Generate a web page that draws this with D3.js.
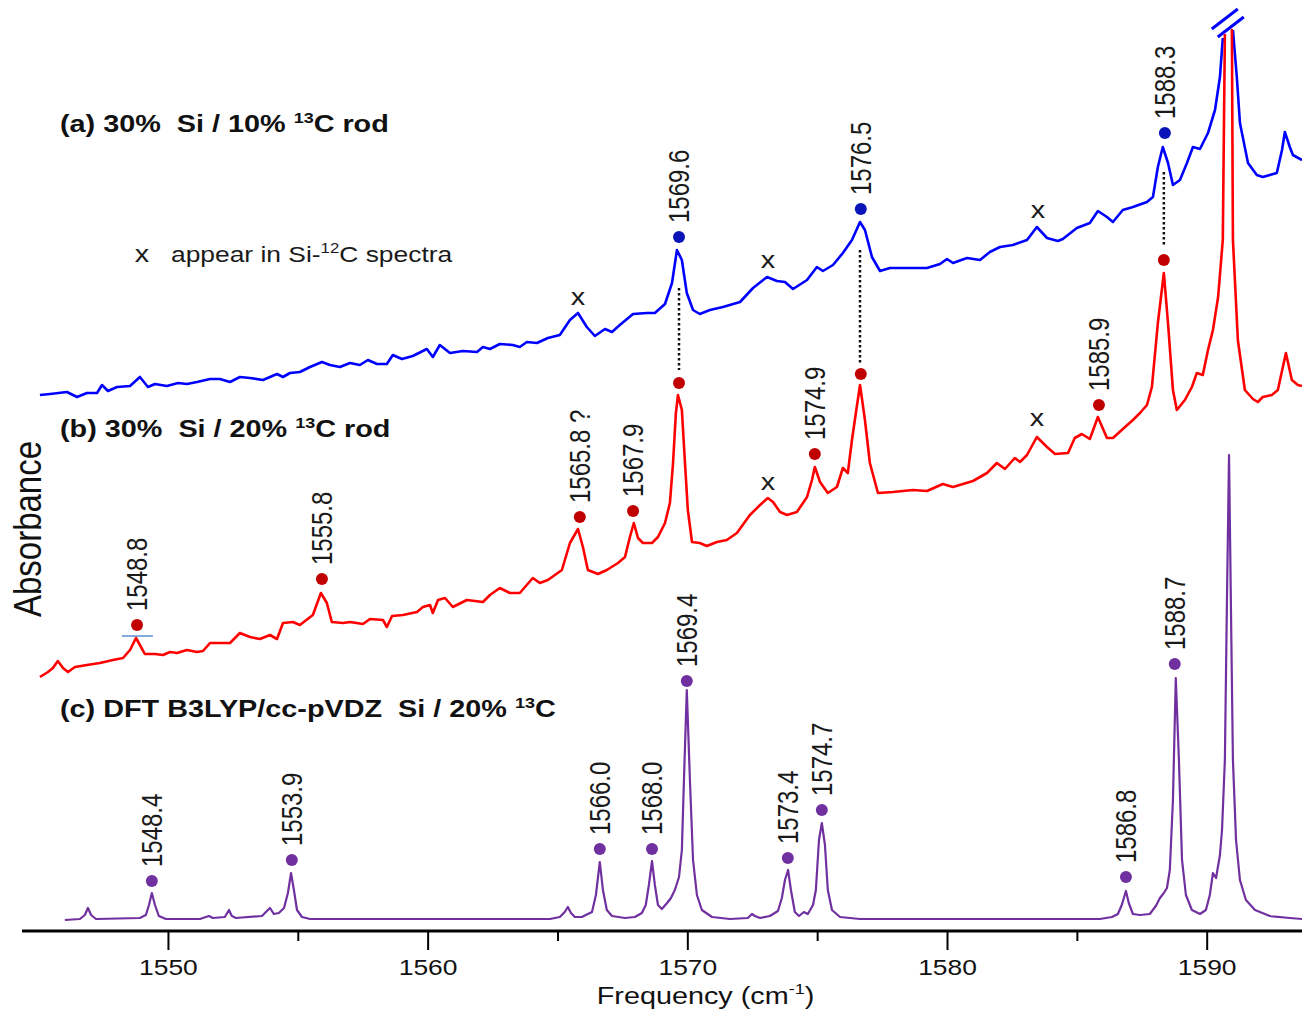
<!DOCTYPE html>
<html>
<head>
<meta charset="utf-8">
<style>
  body { margin: 0; background: #fff; }
  svg { display: block; font-family: "Liberation Sans", Arial, sans-serif; }
</style>
</head>
<body>
<svg width="1302" height="1011"></svg>

<script src="https://d3js.org/d3.v7.min.js"></script>
<script>
// spectra: [frequency (cm-1), absorbance (arb., stacked)]
// null = break where the strong band runs off the top
const traceA = [
  [1545.07,53.6],[1545.46,53.7],[1546.11,53.9],[1546.50,53.4],[1546.88,53.8],[1547.27,53.8],[1547.46,54.6],
  [1547.69,54.0],[1548.04,54.4],[1548.54,54.5],[1548.92,55.4],[1549.23,54.4],[1549.50,54.7],[1549.96,54.5],
  [1550.39,54.8],[1550.73,54.7],[1551.12,54.9],[1551.62,55.2],[1552.00,55.2],[1552.39,54.9],[1552.77,55.4],
  [1553.16,55.3],[1553.66,55.1],[1554.20,55.7],[1554.43,55.4],[1554.70,55.8],[1555.08,55.9],[1555.47,56.4],
  [1555.93,56.9],[1556.24,56.6],[1556.62,56.4],[1557.01,56.8],[1557.39,56.6],[1557.70,57.1],[1558.05,56.7],
  [1558.43,56.7],[1558.66,57.6],[1559.01,57.2],[1559.43,57.5],[1559.97,58.2],[1560.20,57.4],[1560.47,58.6],
  [1560.86,57.8],[1561.36,58.0],[1561.90,57.9],[1562.13,58.4],[1562.40,58.2],[1562.78,58.7],[1563.28,58.6],
  [1563.55,58.4],[1563.82,58.9],[1564.21,58.8],[1564.63,59.3],[1565.09,59.6],[1565.48,61.1],[1565.79,61.8],
  [1566.13,60.4],[1566.44,59.5],[1566.83,60.2],[1567.10,59.9],[1567.40,60.6],[1567.91,61.7],[1568.44,61.8],
  [1568.75,61.8],[1569.14,62.7],[1569.41,64.8],[1569.60,68.1],[1569.79,67.1],[1569.98,63.8],[1570.22,62.1],
  [1570.48,61.7],[1570.87,62.1],[1571.37,62.4],[1572.03,62.9],[1572.53,64.3],[1573.07,65.4],[1573.45,65.0],
  [1573.76,64.9],[1574.07,64.2],[1574.61,65.1],[1574.99,66.4],[1575.22,66.0],[1575.61,66.6],[1575.99,67.8],
  [1576.34,69.1],[1576.65,70.9],[1576.84,70.1],[1577.11,67.4],[1577.42,66.0],[1577.80,66.3],[1578.46,66.3],
  [1579.23,66.3],[1579.73,66.7],[1580.00,67.2],[1580.23,66.8],[1580.77,67.3],[1581.27,67.1],[1581.65,67.9],
  [1582.04,68.4],[1582.54,68.6],[1583.08,69.1],[1583.46,70.4],[1583.85,69.3],[1584.27,69.0],[1584.46,69.2],
  [1585.00,70.3],[1585.50,70.8],[1585.81,72.0],[1586.16,71.4],[1586.39,70.9],[1586.77,72.1],[1587.16,72.4],
  [1587.70,72.9],[1587.93,73.4],[1588.12,76.4],[1588.31,78.4],[1588.51,76.8],[1588.70,74.6],[1588.97,75.1],
  [1589.24,76.8],[1589.47,78.4],[1589.74,78.2],[1590.05,79.8],[1590.32,82.1],[1590.51,85.4],[1590.62,89.3],
  null,
  [1591.01,90.1],[1591.16,85.4],[1591.28,80.8],[1591.59,76.8],[1591.93,75.6],[1592.16,75.4],[1592.70,75.8],
  [1592.90,78.1],[1593.01,79.9],[1593.20,78.4],[1593.32,77.6],[1593.67,77.1]
];

const traceB = [
  [1545.07,25.4],[1545.38,25.9],[1545.57,26.3],[1545.76,27.0],[1545.96,26.3],[1546.15,25.9],[1546.42,26.4],
  [1546.88,26.6],[1547.38,26.8],[1547.88,27.1],[1548.27,27.3],[1548.54,28.1],[1548.77,29.3],[1548.92,28.6],
  [1549.11,27.7],[1549.50,27.7],[1549.81,27.6],[1550.08,27.9],[1550.35,27.8],[1550.73,28.1],[1551.12,27.9],
  [1551.35,28.0],[1551.62,28.8],[1552.39,28.8],[1552.77,29.8],[1553.16,29.4],[1553.54,29.2],[1553.93,29.6],
  [1554.20,29.2],[1554.43,30.8],[1554.81,30.9],[1555.08,30.6],[1555.58,31.6],[1555.89,33.8],[1556.12,32.8],
  [1556.31,30.9],[1556.74,30.8],[1557.01,30.9],[1557.51,30.7],[1557.78,31.2],[1558.28,31.1],[1558.43,30.4],
  [1558.63,31.5],[1559.05,31.6],[1559.59,31.9],[1559.82,32.4],[1560.09,32.6],[1560.20,31.8],[1560.40,33.1],
  [1560.67,33.3],[1560.97,32.4],[1561.51,33.1],[1562.13,32.9],[1562.40,33.6],[1562.78,34.3],[1563.17,33.8],
  [1563.55,33.8],[1564.05,35.3],[1564.32,34.8],[1564.63,35.1],[1565.17,36.1],[1565.48,38.8],[1565.79,40.2],
  [1565.98,38.4],[1566.17,36.1],[1566.56,35.7],[1566.90,36.1],[1567.33,36.8],[1567.60,37.4],[1567.79,39.4],
  [1567.94,40.8],[1568.10,39.3],[1568.29,38.8],[1568.64,38.8],[1568.87,39.4],[1569.14,40.8],[1569.33,42.8],
  [1569.45,46.8],[1569.56,51.8],[1569.64,53.6],[1569.79,52.1],[1569.91,46.8],[1570.02,42.1],[1570.18,38.9],
  [1570.48,38.8],[1570.75,38.5],[1571.14,38.9],[1571.52,39.1],[1571.91,39.8],[1572.41,41.6],[1572.80,42.6],
  [1573.10,43.3],[1573.30,42.9],[1573.57,41.9],[1573.84,41.6],[1574.22,41.9],[1574.61,43.4],[1574.80,45.1],
  [1574.91,46.4],[1575.11,44.9],[1575.41,43.8],[1575.76,44.4],[1575.99,46.3],[1576.18,45.8],[1576.34,49.1],
  [1576.49,51.8],[1576.65,54.6],[1576.84,51.1],[1577.03,46.8],[1577.34,43.8],[1577.92,43.9],[1578.69,44.1],
  [1579.23,44.0],[1579.84,44.7],[1580.23,44.4],[1581.00,45.0],[1581.54,45.8],[1581.92,46.8],[1582.23,46.2],
  [1582.61,47.3],[1582.81,46.9],[1583.08,47.6],[1583.46,49.4],[1583.85,48.4],[1584.16,47.7],[1584.66,47.8],
  [1584.92,49.3],[1585.19,49.7],[1585.50,49.2],[1585.81,51.4],[1586.16,49.3],[1586.39,49.3],[1586.77,50.2],
  [1587.16,51.1],[1587.43,51.8],[1587.70,52.6],[1587.89,54.4],[1588.12,60.8],[1588.35,65.8],[1588.51,60.8],
  [1588.70,54.1],[1588.85,52.1],[1589.16,53.1],[1589.43,54.4],[1589.62,55.8],[1589.85,55.6],[1590.05,58.1],
  [1590.24,60.1],[1590.44,63.4],[1590.62,69.1],[1590.70,89.7],
  null,
  [1590.97,90.2],[1591.01,69.1],[1591.20,59.1],[1591.47,54.1],[1591.78,53.2],[1591.97,52.9],[1592.16,53.4],
  [1592.51,53.6],[1592.74,54.1],[1593.05,57.8],[1593.28,55.1],[1593.51,54.6],[1593.67,54.5]
];

const traceC = [
  [1546.03,1.1],[1546.61,1.2],[1546.80,1.6],[1546.92,2.3],[1547.04,1.6],[1547.23,1.2],[1548.92,1.3],
  [1549.15,1.6],[1549.27,2.6],[1549.38,3.8],[1549.50,2.6],[1549.65,1.5],[1549.92,1.2],[1551.23,1.2],
  [1551.46,1.4],[1551.58,1.5],[1551.73,1.3],[1552.19,1.4],[1552.35,2.1],[1552.46,1.5],[1552.62,1.3],
  [1553.62,1.5],[1553.81,2.0],[1553.93,2.3],[1554.08,1.7],[1554.27,1.8],[1554.47,2.3],[1554.62,3.8],
  [1554.74,5.8],[1554.85,4.1],[1554.97,2.1],[1555.16,1.4],[1555.47,1.2],[1564.71,1.2],[1565.09,1.4],
  [1565.28,1.9],[1565.40,2.4],[1565.52,1.8],[1565.67,1.4],[1565.94,1.4],[1566.17,1.7],[1566.33,1.9],
  [1566.48,3.6],[1566.63,6.9],[1566.75,4.1],[1566.90,2.1],[1567.10,1.5],[1567.60,1.3],[1567.98,1.4],
  [1568.25,1.8],[1568.40,2.6],[1568.52,4.6],[1568.64,7.0],[1568.75,4.6],[1568.87,2.6],[1569.02,2.2],
  [1569.22,2.8],[1569.37,3.3],[1569.52,4.1],[1569.68,5.4],[1569.79,8.1],[1569.87,15.1],[1569.98,24.1],
  [1570.10,15.1],[1570.22,7.1],[1570.37,3.6],[1570.56,2.1],[1570.95,1.4],[1571.64,1.2],[1572.33,1.3],
  [1572.49,1.7],[1572.60,1.5],[1572.80,1.3],[1573.18,1.5],[1573.49,2.0],[1573.64,3.3],[1573.76,5.1],
  [1573.88,6.1],[1573.99,4.1],[1574.14,1.9],[1574.30,1.5],[1574.49,1.9],[1574.64,1.7],[1574.84,2.6],
  [1574.95,4.1],[1575.07,9.1],[1575.18,10.8],[1575.30,8.6],[1575.41,4.1],[1575.57,2.1],[1575.88,1.4],
  [1576.65,1.2],[1585.89,1.2],[1586.35,1.4],[1586.58,1.7],[1586.73,2.6],[1586.89,4.0],[1587.00,2.8],
  [1587.16,1.7],[1587.43,1.6],[1587.81,1.7],[1588.04,2.5],[1588.20,3.3],[1588.35,3.8],[1588.47,4.3],
  [1588.58,6.1],[1588.70,13.1],[1588.81,25.3],[1588.93,17.1],[1589.05,7.1],[1589.20,3.6],[1589.43,2.1],
  [1589.74,1.7],[1589.97,2.1],[1590.12,3.6],[1590.24,5.8],[1590.36,5.3],[1590.51,7.6],[1590.59,10.1],
  [1590.70,17.1],[1590.78,33.1],[1590.86,47.6],[1590.93,33.1],[1591.01,17.1],[1591.13,9.1],[1591.28,5.1],
  [1591.51,3.1],[1591.86,2.1],[1592.43,1.5],[1593.20,1.3],[1593.67,1.2]
];

// marked bands: frequency, absorbance of the dot, label (null = no label)
const peaksA = [
  [1569.68, 69.4, "1569.6"], [1576.68, 72.2, "1576.5"], [1588.39, 79.8, "1588.3"]
];
const peaksB = [
  [1548.81, 30.6, "1548.8"], [1555.93, 35.2, "1555.8"], [1565.86, 41.4, "1565.8 ?"],
  [1567.91, 42.0, "1567.9"], [1569.68, 54.8, null], [1574.91, 47.7, "1574.9"],
  [1576.68, 55.7, null], [1585.85, 52.6, "1585.9"], [1588.35, 67.1, null]
];
const peaksC = [
  [1549.38, 5.0, "1548.4"], [1554.77, 7.1, "1553.9"], [1566.63, 8.2, "1566.0"],
  [1568.64, 8.2, "1568.0"], [1569.98, 25.0, "1569.4"], [1573.87, 7.3, "1573.4"],
  [1575.18, 12.1, "1574.7"], [1586.89, 5.4, "1586.8"], [1588.77, 26.7, "1588.7"]
];

// bands that also appear in Si-12C spectra
const crossA = [[1565.79, 62.6], [1573.10, 66.3], [1583.50, 71.3]];
const crossB = [[1573.10, 44.1], [1583.46, 50.5]];

// dotted links between (a) and (b): frequency, top, bottom
const links = [[1569.68, 64.3, 56.1], [1576.65, 68.1, 56.8], [1588.35, 75.9, 68.4]];

const majorTicks = [1550, 1560, 1570, 1580, 1590];
const minorTicks = [1555, 1565, 1575, 1585];
const breakFreq = 1590.85;

const width = 1302, height = 1011;
const svg = d3.select("svg");

const x = d3.scaleLinear().domain([1544.38, 1593.67]).range([22, 1302]);
const y = d3.scaleLinear().domain([0, 91]).range([931, 21]);

const line = d3.line()
  .defined(d => d !== null)
  .x(d => x(d[0]))
  .y(d => y(d[1]));

// stretched text, the figure's lettering is wider than the font
const sx = 1.2;

// axis
let axis = svg.append("g")
  .attr("transform", `translate(0,${y(0)})`)
  .call(d3.axisBottom(x).tickValues(majorTicks).tickSize(19).tickSizeOuter(0)
    .tickPadding(9).tickFormat(d3.format("d")));
axis.select(".domain").attr("stroke-width", 3).attr("d", `M22,0H1302`);
axis.selectAll(".tick line").attr("stroke-width", 2);
axis.selectAll(".tick text")
  .attr("transform", `scale(${sx},1)`)
  .style("font-size", "22px")
  .attr("fill", "#111");

let minor = svg.append("g")
  .attr("transform", `translate(0,${y(0)})`)
  .call(d3.axisBottom(x).tickValues(minorTicks).tickSize(10).tickFormat(""));
minor.select(".domain").remove();
minor.selectAll(".tick line").attr("stroke-width", 2);

// axis titles
let ft = svg.append("g").attr("transform", `translate(${x(1570.7)},1004) scale(${sx},1)`)
  .append("text").attr("text-anchor", "middle").style("font-size", "24px").attr("fill", "#111");
ft.append("tspan").text("Frequency (cm");
ft.append("tspan").attr("dy", -10).style("font-size", "15px").text("-1");
ft.append("tspan").attr("dy", 10).text(")");

svg.append("text")
  .attr("transform", `translate(27,${y(40.2)}) scale(${sx},1) rotate(-90)`)
  .attr("text-anchor", "middle")
  .attr("dy", "0.35em")
  .style("font-size", "33px")
  .attr("fill", "#111")
  .text("Absorbance");

// traces
const traces = [
  { data: traceA, color: "#0000ff", w: 2.6 },
  { data: traceB, color: "#ff0000", w: 2.6 },
  { data: traceC, color: "#7030a0", w: 2.2 }
];
svg.selectAll(".trace")
  .data(traces)
  .join("path")
  .attr("class", "trace")
  .attr("d", d => line(d.data))
  .attr("fill", "none")
  .attr("stroke", d => d.color)
  .attr("stroke-width", d => d.w)
  .attr("stroke-linejoin", "round");

// break marks on the strong band
const bx = x(breakFreq);
[[-17, 3], [-11, 11]].forEach(o => {
  svg.append("line")
    .attr("x1", bx + o[0]).attr("y1", o[1] + 26)
    .attr("x2", bx + o[0] + 26).attr("y2", o[1] + 6)
    .attr("stroke", "#0000ff").attr("stroke-width", 3);
});

// dotted links
svg.selectAll(".link")
  .data(links)
  .join("line")
  .attr("x1", d => x(d[0])).attr("x2", d => x(d[0]))
  .attr("y1", d => y(d[1])).attr("y2", d => y(d[2]))
  .attr("stroke", "#111").attr("stroke-width", 2.5)
  .attr("stroke-dasharray", "2.5,2.5");

// short level mark under 1548.8
svg.append("line")
  .attr("x1", x(1548.23)).attr("x2", x(1549.42))
  .attr("y1", y(29.5)).attr("y2", y(29.5))
  .attr("stroke", "#5b8fd0").attr("stroke-width", 1.5);

// peak dots and labels
function drawPeaks(peaks, color) {
  let g = svg.append("g");
  g.selectAll("circle")
    .data(peaks)
    .join("circle")
    .attr("cx", d => x(d[0]))
    .attr("cy", d => y(d[1]))
    .attr("r", 6)
    .attr("fill", color);
  g.selectAll("text")
    .data(peaks.filter(d => d[2]))
    .join("text")
    .attr("transform", d => `translate(${x(d[0])},${y(d[1]) - 14}) scale(${sx},1) rotate(-90)`)
    .attr("dy", "0.35em")
    .style("font-size", "24px")
    .attr("fill", "#1a1a1a")
    .text(d => d[2]);
}
drawPeaks(peaksA, "#0a14b8");
drawPeaks(peaksB, "#c00000");
drawPeaks(peaksC, "#7030a0");

// x marks
svg.selectAll(".cross")
  .data(crossA.concat(crossB))
  .join("text")
  .attr("class", "cross")
  .attr("transform", d => `translate(${x(d[0])},${y(d[1])}) scale(${sx},1)`)
  .attr("text-anchor", "middle")
  .style("font-size", "24px")
  .attr("fill", "#1a1a1a")
  .text("x");

// panel titles
function title(px, py, parts) {
  let t = svg.append("g").attr("transform", `translate(${px},${py}) scale(${sx},1)`)
    .append("text").style("font-size", "24px").style("font-weight", "bold").attr("fill", "#111")
    .attr("xml:space", "preserve");
  t.append("tspan").text(parts[0]);
  t.append("tspan").attr("dy", -9).style("font-size", "15px").text(parts[1]);
  t.append("tspan").attr("dy", 9).text(parts[2]);
}
title(60, 132, ["(a) 30%  Si / 10% ", "13", "C rod"]);
title(60, 437, ["(b) 30%  Si / 20% ", "13", "C rod"]);
title(60, 717, ["(c) DFT B3LYP/cc-pVDZ  Si / 20% ", "13", "C"]);

// legend for x marks
let lg = svg.append("g").attr("transform", `translate(0,262)`);
lg.append("text").attr("transform", `translate(142,0) scale(${sx},1)`)
  .attr("text-anchor", "middle").style("font-size", "24px").attr("fill", "#1a1a1a").text("x");
let lt = lg.append("text").attr("transform", `translate(171,0) scale(${sx},1)`)
  .style("font-size", "22px").attr("fill", "#1a1a1a");
lt.append("tspan").text("appear in Si-");
lt.append("tspan").attr("dy", -9).style("font-size", "14px").text("12");
lt.append("tspan").attr("dy", 9).text("C spectra");
</script>
</body>
</html>
